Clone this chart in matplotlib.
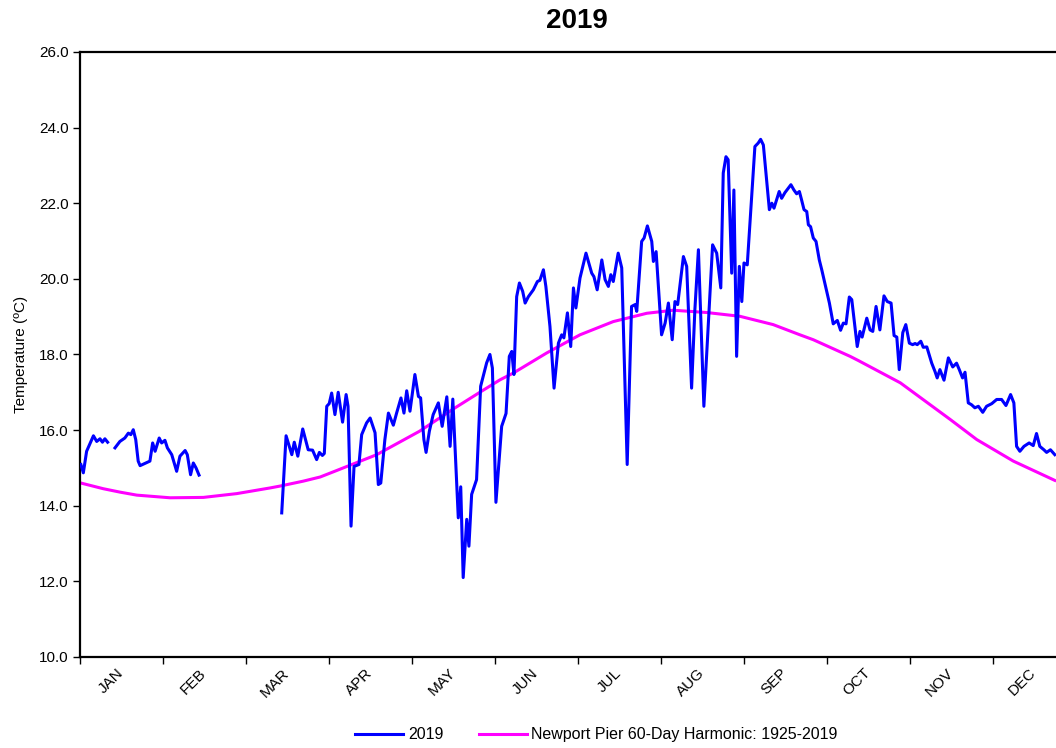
import numpy as np
import matplotlib
matplotlib.use("Agg")
import matplotlib.pyplot as plt

plt.rcParams["font.family"] = ["Liberation Sans", "DejaVu Sans"]

MONTHS = ["JAN", "FEB", "MAR", "APR", "MAY", "JUN",
          "JUL", "AUG", "SEP", "OCT", "NOV", "DEC"]

# Daily surface temperature 2019 (day of year, deg C); gaps = missing days
jan_days = [0.5, 1.4, 2.6, 5.1, 6.3, 7.5, 8.4, 9.3, 10.3]
jan_temp = [15.09, 14.87, 15.44, 15.85, 15.70, 15.77, 15.68, 15.77, 15.68]

feb_days = [13.0, 14.8, 16.6, 17.9, 18.8, 19.7, 20.6, 21.5, 22.2, 25.8,
            26.8, 27.7, 29.2, 30.1, 31.3, 32.2, 33.8, 35.6, 36.8, 38.7,
            39.5, 40.7, 41.7, 42.7, 43.8]
feb_temp = [15.53, 15.70, 15.79, 15.92, 15.88, 16.01, 15.75, 15.18, 15.06, 15.18,
            15.66, 15.44, 15.79, 15.66, 15.73, 15.53, 15.35, 14.91, 15.31, 15.46,
            15.35, 14.82, 15.13, 15.00, 14.81]

rest_days = [
    74.1, 75.7, 77.8, 78.7, 80.0, 81.8, 83.8, 85.4, 86.9, 87.9,
    89.0, 89.7, 90.6, 91.5, 92.4, 93.6, 94.8, 96.4, 97.7, 98.4,
    99.5, 100.6, 102.4, 103.4, 105.2, 106.5, 108.3, 109.5, 110.4, 111.9,
    113.2, 115.0, 116.2, 117.8, 118.9, 119.9, 121.1, 122.9, 124.2, 125.0,
    126.2, 127.0, 128.2, 129.6, 131.5, 132.9, 134.6, 135.8, 136.8, 138.8,
    139.7, 140.6, 141.9, 142.7, 143.7, 145.5, 147.0, 149.2, 150.4, 151.3,
    152.6, 154.7, 156.3, 157.5, 158.4, 159.2, 160.2, 161.2, 162.4, 163.3,
    164.5, 166.3, 167.8, 168.7, 170.0, 170.9, 172.4, 173.9, 175.5, 176.7,
    177.5, 178.8, 180.0, 181.0, 181.9, 183.4, 185.6, 187.7, 188.5, 189.7,
    191.4, 192.6, 193.8, 194.7, 195.6, 197.4, 198.7, 200.7, 202.3, 203.6,
    204.2, 206.0, 206.9, 208.1, 209.7, 210.3, 211.3, 213.3, 214.6, 215.8,
    217.2, 218.2, 219.2, 221.3, 222.5, 224.3, 225.5, 226.8, 228.8, 232.0,
    233.5, 235.0, 235.9, 236.9, 237.7, 239.0, 239.8, 240.8, 241.8, 242.7,
    243.5, 244.7, 246.3, 247.5, 248.7, 249.6, 250.6, 252.8, 253.7, 254.5,
    256.4, 257.3, 258.5, 260.7, 261.8, 262.8, 263.8, 264.6, 265.5, 266.5,
    267.1, 267.9, 268.9, 269.9, 271.1, 272.0, 273.8, 274.8, 276.2, 277.7,
    278.9, 279.9, 280.9, 282.1, 283.0, 285.0, 286.0, 286.8, 288.5, 289.7,
    290.7, 291.9, 293.3, 294.8, 296.0, 297.4, 298.5, 299.5, 300.4, 301.7,
    302.8, 304.1, 305.3, 306.2, 307.0, 308.3, 309.2, 310.5, 312.3, 313.5,
    314.3, 315.3, 316.8, 318.4, 320.0, 321.4, 322.4, 323.6, 324.5, 325.7,
    326.9, 328.1, 329.4, 331.0, 332.4, 334.3, 336.1, 337.9, 339.5, 341.2,
    342.4, 343.4, 344.6, 346.1, 348.0, 349.5, 350.7, 351.9, 353.4, 354.4,
    355.8, 357.4]
rest_temp = [
    13.81, 15.85, 15.35, 15.68, 15.31, 16.03, 15.48, 15.47, 15.22, 15.41,
    15.33, 15.38, 16.63, 16.70, 16.98, 16.41, 17.00, 16.21, 16.94, 16.63,
    13.46, 15.04, 15.09, 15.88, 16.19, 16.32, 15.93, 14.56, 14.60, 15.75,
    16.45, 16.13, 16.45, 16.85, 16.45, 17.04, 16.50, 17.47, 16.89, 16.85,
    15.75, 15.41, 15.97, 16.41, 16.72, 16.10, 16.88, 15.57, 16.82, 13.68,
    14.50, 12.10, 13.64, 12.93, 14.30, 14.69, 17.16, 17.78, 18.00, 17.64,
    14.09, 16.10, 16.44, 17.95, 18.08, 17.47, 19.53, 19.89, 19.67, 19.36,
    19.53, 19.71, 19.93, 19.96, 20.24, 19.80, 18.74, 17.11, 18.30, 18.52,
    18.44, 19.10, 18.21, 19.76, 19.23, 20.02, 20.68, 20.15, 20.06, 19.71,
    20.50, 19.98, 19.80, 20.11, 19.93, 20.68, 20.29, 15.09, 19.27, 19.32,
    19.14, 20.99, 21.08, 21.40, 20.99, 20.46, 20.72, 18.52, 18.83, 19.36,
    18.39, 19.40, 19.32, 20.59, 20.33, 17.11, 19.18, 20.77, 16.63, 20.90,
    20.68, 19.76, 22.80, 23.23, 23.15, 20.15, 22.35, 17.95, 20.33, 19.40,
    20.42, 20.37, 22.18, 23.50, 23.59, 23.69, 23.54, 21.83, 22.00, 21.87,
    22.31, 22.13, 22.28, 22.49, 22.35, 22.25, 22.31, 22.09, 21.83, 21.78,
    21.43, 21.38, 21.08, 20.99, 20.50, 20.24, 19.67, 19.36, 18.81, 18.90,
    18.64, 18.83, 18.81, 19.52, 19.45, 18.21, 18.61, 18.46, 18.96, 18.65,
    18.61, 19.27, 18.65, 19.55, 19.40, 19.36, 18.50, 18.46, 17.60, 18.58,
    18.79, 18.30, 18.26, 18.29, 18.26, 18.35, 18.19, 18.20, 17.77, 17.55,
    17.38, 17.60, 17.32, 17.91, 17.67, 17.77, 17.60, 17.38, 17.53, 16.72,
    16.67, 16.59, 16.63, 16.47, 16.63, 16.70, 16.81, 16.81, 16.65, 16.94,
    16.72, 15.57, 15.44, 15.57, 15.66, 15.59, 15.91, 15.57, 15.48, 15.41,
    15.48, 15.35]

# Long-term 60-day harmonic, Newport Pier 1925-2019
harm_days = [0.5, 8.7, 14.8, 21.0, 33.2, 45.4, 51.5, 57.6, 69.8, 73.5,
             82.0, 88.2, 94.2, 108.9, 124.6, 137.0, 146.7, 154.1, 159.0, 171.2,
             183.4, 195.6, 207.9, 217.6, 229.8, 242.0, 254.2, 264.0, 268.9, 282.4,
             285.4, 300.8, 319.1, 328.8, 342.2, 357.4]
harm_temp = [14.60, 14.45, 14.36, 14.28, 14.21, 14.22, 14.27, 14.32, 14.47, 14.52,
             14.65, 14.76, 14.93, 15.35, 15.97, 16.56, 17.00, 17.33, 17.51, 18.04,
             18.52, 18.87, 19.09, 19.17, 19.11, 19.01, 18.79, 18.52, 18.39, 17.95,
             17.84, 17.25, 16.28, 15.75, 15.18, 14.67]

# join the observed segments, NaN breaks the line over missing days
obs_days = jan_days + [np.nan] + feb_days + [np.nan] + rest_days
obs_temp = jan_temp + [np.nan] + feb_temp + [np.nan] + rest_temp

fig = plt.figure(figsize=(10.56, 7.48), dpi=100)
ax = fig.add_axes([0.0753, 0.1217, 0.9432, 0.8088])

ax.plot(obs_days, obs_temp, color="#0000ff", linewidth=2.2, label="2019", zorder=3)
ax.plot(harm_days, harm_temp, color="#ff00ff", linewidth=2.2,
        label="Newport Pier 60-Day Harmonic: 1925-2019", zorder=2)

ax.set_xlim(0, 365)
ax.set_ylim(10, 26)

edges = np.linspace(0, 365, 13)
mids = (edges[:-1] + edges[1:]) / 2
ax.set_xticks(edges)
ax.set_xticklabels([])
ax.set_xticks(mids, minor=True)
ax.set_xticklabels(MONTHS, minor=True, rotation=45, ha="right", va="center",
                   rotation_mode="anchor", fontsize=11)
ax.tick_params(axis="x", which="minor", length=0, pad=10)
ax.tick_params(axis="x", which="major", direction="out", length=5, width=1)

ax.set_yticks(np.arange(10, 26.1, 2))
ax.set_yticklabels([f"{v:.1f}" for v in np.arange(10, 26.1, 2)], fontsize=11)
ax.tick_params(axis="y", direction="out", length=5, width=1, pad=3)

for side in ("left", "top", "bottom"):
    ax.spines[side].set_linewidth(1.6)
ax.spines["right"].set_visible(False)

ax.set_ylabel("Temperature (ºC)", fontsize=11, labelpad=8)
fig.text(0.546, 0.972, "2019", ha="center", va="center",
         fontsize=20, fontweight="bold")

fig.legend(loc="center", bbox_to_anchor=(0.565, 0.0174), ncol=2, frameon=False,
           fontsize=11.5, handlelength=3.0, handletextpad=0.3, columnspacing=2.2)

fig.savefig("out.png", dpi=100)
